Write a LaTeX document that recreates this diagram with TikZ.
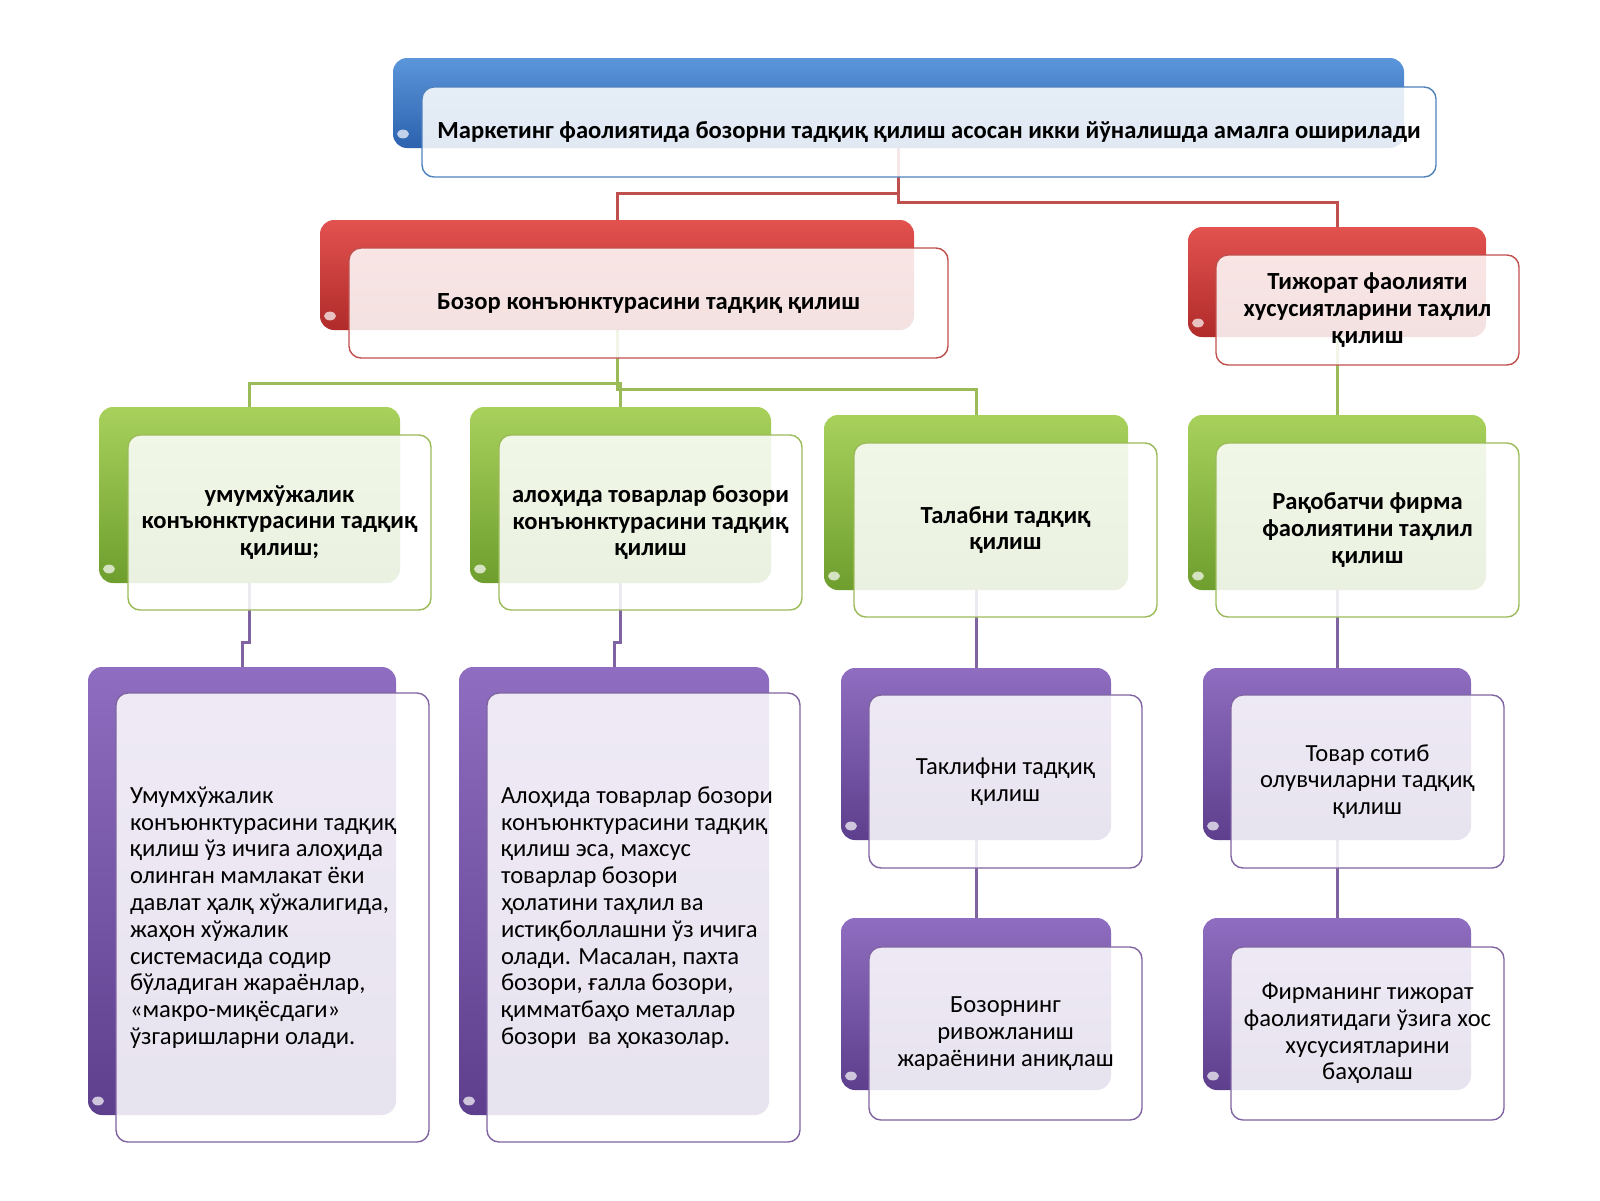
\documentclass[tikz,border=0pt]{standalone}
\usepackage{fontspec}
\setmainfont{Carlito}
\usetikzlibrary{backgrounds}

\definecolor{bluet}{HTML}{5B95DA}
\definecolor{blueb}{HTML}{2C62AE}
\definecolor{bluel}{HTML}{4F81BD}
\definecolor{redt}{HTML}{E2524F}
\definecolor{redb}{HTML}{B02B2A}
\definecolor{redl}{HTML}{C0504D}
\definecolor{greent}{HTML}{A8D15C}
\definecolor{greenb}{HTML}{6E9E2E}
\definecolor{greenl}{HTML}{9BBB59}
\definecolor{purplet}{HTML}{8F6DC0}
\definecolor{purpleb}{HTML}{5D3F8D}
\definecolor{purplel}{HTML}{8064A2}

\tikzset{
  sz/.style 2 args={minimum width=#1*.5pt, minimum height=#2*.5pt},
  bar/.style={rounded corners=7pt, top color=#1t, bottom color=#1b, inner sep=0pt,
    path picture={\fill[white,opacity=.7] ([shift={(5pt,7pt)}]path picture bounding box.south west)
      ellipse (3pt and 2.2pt);}},
  box/.style={draw=#1l, line width=.7pt, fill=white, fill opacity=.86, text opacity=1,
    rounded corners=6pt, align=center, inner sep=3pt,
    font=\fontsize{12.3}{13.4}\selectfont},
  bold/.style={font=\fontsize{12.3}{13.4}\selectfont\bfseries},
  longtext/.style={align=flush left, text width=142.5pt, inner xsep=7pt},
  link/.style={draw=#1l, line width=1.5pt},
}

\begin{document}
\begin{tikzpicture}[x=.5pt,y=-.5pt]
  \useasboundingbox (0,0) rectangle (1600,1200);
  % top
  \node[bar=blue,sz={1011}{90}] (mainbar) at (898.5,103) {};
  \node[box=blue,sz={1014}{90},bold] (main) at (929,132)
    {Маркетинг фаолиятида бозорни тадқиқ қилиш асосан икки йўналишда амалга оширилади};
  % second row
  \node[bar=red,sz={594}{110}] (conjbar) at (617,275) {};
  \node[box=red,sz={599}{110},bold] (conj) at (648.5,303)
    {Бозор конъюнктурасини тадқиқ қилиш};
  \node[bar=red,sz={298}{110}] (tradebar) at (1337,282) {};
  \node[box=red,sz={303}{110},bold] (trade) at (1367.5,310)
    {Тижорат фаолияти\\хусусиятларини таҳлил\\қилиш};
  % third row
  \node[bar=green,sz={301}{176}] (g1bar) at (249.5,495) {};
  \node[box=green,sz={303}{175},bold] (g1) at (279.5,522.5)
    {умумхўжалик\\конъюнктурасини тадқиқ\\қилиш;};
  \node[bar=green,sz={301}{176}] (g2bar) at (620.5,495) {};
  \node[box=green,sz={303}{175},bold] (g2) at (650.5,522.5)
    {алоҳида товарлар бозори\\конъюнктурасини тадқиқ\\қилиш};
  \node[bar=green,sz={304}{175}] (g3bar) at (976,502.5) {};
  \node[box=green,sz={303}{174},bold] (g3) at (1005.5,530)
    {Талабни тадқиқ\\қилиш};
  \node[bar=green,sz={298}{175}] (g4bar) at (1337,502.5) {};
  \node[box=green,sz={303}{174},bold] (g4) at (1367.5,530)
    {Рақобатчи фирма\\фаолиятини таҳлил\\қилиш};
  % fourth row
  \node[bar=purple,sz={308}{448}] (p1bar) at (242,891) {};
  \node[box=purple,sz={313}{449},longtext] (p1) at (272.5,917.5)
    {Умумхўжалик\\конъюнктурасини тадқиқ\\қилиш ўз ичига алоҳида\\олинган мамлакат ёки\\давлат ҳалқ хўжалигида,\\жаҳон хўжалик\\системасида содир\\бўладиган жараёнлар,\\«макро-миқёсдаги»\\ўзгаришларни олади.};
  \node[bar=purple,sz={310}{448}] (p2bar) at (614,891) {};
  \node[box=purple,sz={313}{449},longtext] (p2) at (643.5,917.5)
    {Алоҳида товарлар бозори\\конъюнктурасини тадқиқ\\қилиш эса, махсус\\товарлар бозори\\ҳолатини таҳлил ва\\истиқболлашни ўз ичига\\олади. Масалан, пахта\\бозори, ғалла бозори,\\қимматбаҳо металлар\\бозори\ \ ва ҳоказолар.};
  \node[bar=purple,sz={270}{172}] (p3bar) at (976,754) {};
  \node[box=purple,sz={273}{173}] (p3) at (1005.5,781.5)
    {Таклифни тадқиқ\\қилиш};
  \node[bar=purple,sz={270}{172}] (p5bar) at (976,1004) {};
  \node[box=purple,sz={273}{173}] (p5) at (1005.5,1033.5)
    {Бозорнинг\\ривожланиш\\жараёнини аниқлаш};
  \node[bar=purple,sz={268}{172}] (p4bar) at (1337,754) {};
  \node[box=purple,sz={273}{173}] (p4) at (1367.5,781.5)
    {Товар сотиб\\олувчиларни тадқиқ\\қилиш};
  \node[bar=purple,sz={268}{172}] (p6bar) at (1337,1004) {};
  \node[box=purple,sz={273}{173}] (p6) at (1367.5,1033.5)
    {Фирманинг тижорат\\фаолиятидаги ўзига хос\\хусусиятларини\\баҳолаш};
  % connectors
  \coordinate (jr1) at (898.5,193);
  \coordinate (jr2) at (898.5,202);
  \coordinate (jg1) at (617,383);
  \coordinate (jg3) at (617,389);
  \coordinate (jp1) at (249.5,642);
  \coordinate (jp2) at (620.5,642);
  \begin{scope}[on background layer]
    \draw[link=red] (mainbar.center) |- (jr1) -| (conjbar.north);
    \draw[link=red] (mainbar.center) |- (jr2) -| (tradebar.north);
    \draw[link=green] (conjbar.center) |- (jg1) -| (g1bar.north);
    \draw[link=green] (conjbar.center) |- (jg1) -| (g2bar.north);
    \draw[link=green] (conjbar.center) |- (jg3) -| (g3bar.north);
    \draw[link=green] (tradebar.center) -- (g4bar.north);
    \draw[link=purple] (g1bar.center) |- (jp1) -| (p1bar.north);
    \draw[link=purple] (g2bar.center) |- (jp2) -| (p2bar.north);
    \draw[link=purple] (g3bar.center) -- (p3bar.north);
    \draw[link=purple] (p3bar.center) -- (p5bar.north);
    \draw[link=purple] (g4bar.center) -- (p4bar.north);
    \draw[link=purple] (p4bar.center) -- (p6bar.north);
  \end{scope}
\end{tikzpicture}
\end{document}
